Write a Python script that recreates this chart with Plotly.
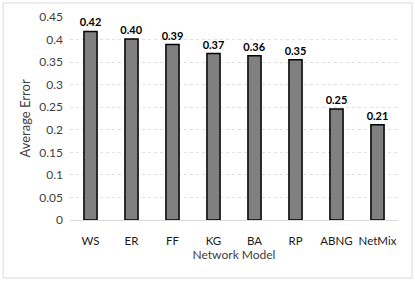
import plotly.graph_objects as go

models = ["WS", "ER", "FF", "KG", "BA", "RP", "ABNG", "NetMix"]
avg_error = [0.418, 0.401, 0.389, 0.369, 0.364, 0.355, 0.246, 0.211]

fig = go.Figure()
fig.add_trace(go.Bar(
    x=models, y=avg_error,
    marker=dict(color="#808080", line=dict(color="#000000", width=1.5)),
    text=[f"<b>{v:.2f}</b>" for v in avg_error],
    textposition="outside", cliponaxis=False, constraintext="none",
    textfont=dict(size=11, color="#000000", family="Lato"),
))

fig.update_layout(
    width=415, height=282,
    margin=dict(l=70, r=17, t=17, b=62, autoexpand=False),
    paper_bgcolor="white", plot_bgcolor="white",
    font=dict(family="Lato", size=12, color="#404040"),
    bargap=0.68,
    showlegend=False,
    xaxis=dict(
        title=dict(text="Network Model", font=dict(size=12, color="#404040"), standoff=2),
        showline=True, linecolor="#d9d9d9", linewidth=1, automargin=False,
        ticks="", ticklabelstandoff=10, tickfont=dict(size=11.5, color="#1a1a1a"),
    ),
    yaxis=dict(
        title=dict(text="Average Error", font=dict(size=13, color="#404040"), standoff=5),
        range=[0, 0.45], dtick=0.05, tickformat="~g", automargin=False,
        showgrid=True, gridcolor="#e0e0e0", griddash="dot", gridwidth=1,
        zeroline=False, ticks="", ticklabelstandoff=6,
        tickfont=dict(size=12, color="#404040"),
    ),
    shapes=[dict(type="rect", xref="paper", yref="paper",
                 x0=-0.204, x1=1.043, y0=-0.286, y1=1.069,
                 line=dict(color="#d9d9d9", width=1))],
)

fig.write_html("out.html", config={"displayModeBar": False},
               post_script="document.body.style.margin='0';")
